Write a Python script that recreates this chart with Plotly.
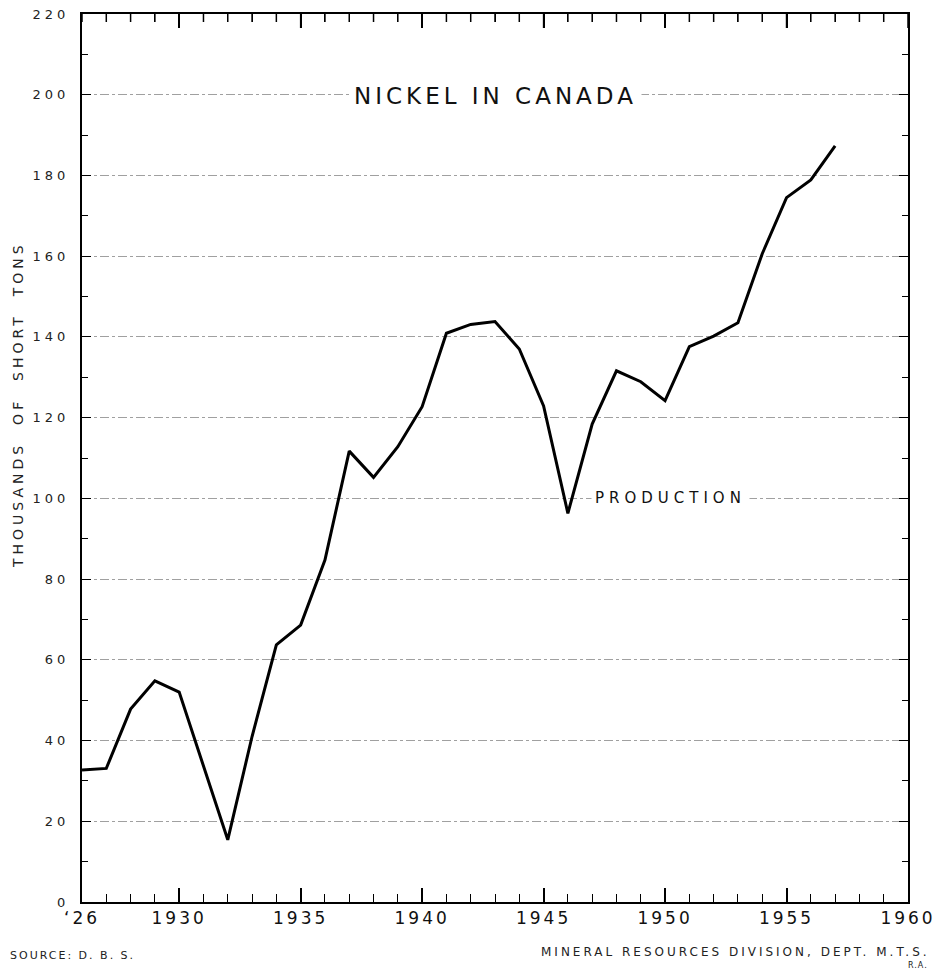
import plotly.graph_objects as go

years = list(range(1926, 1958))
production = [32.7, 33.1, 47.8, 54.8, 52.0, 33.5, 15.4, 41.0, 63.7, 68.6,
              84.7, 111.7, 105.2, 112.8, 122.7, 140.9, 143.1, 143.8, 137.0, 122.9,
              96.3, 118.4, 131.6, 128.9, 124.2, 137.6, 140.2, 143.5, 160.6, 174.5,
              178.9, 187.3]

x_tickvals = [1926, 1930, 1935, 1940, 1945, 1950, 1955, 1960]
x_ticklabels = ["\u201826", "1930", "1935", "1940", "1945", "1950", "1955", "1960"]
y_tickvals = list(range(0, 221, 20))
y_ticklabels = [str(v) for v in y_tickvals]

FONT = "DejaVu Sans"


def spaced(s, sp):
    return '<span style="letter-spacing:%spx">%s</span>' % (sp, s)


# plot area in pixels: x 82..908, y 14..902
L, R, T, B = 82, 908, 14, 902
W, H = 935, 974
Y_MAX = 220


def px(x):
    return (x - L) / (R - L)


def py(y):
    return (B - y) / (B - T)


fig = go.Figure()
fig.add_trace(go.Scatter(x=years, y=production, mode="lines",
                         line=dict(color="black", width=3), hoverinfo="x+y"))

x_minor = dict(dtick=1, tick0=1926, ticks="inside", ticklen=8,
               tickwidth=1.3, tickcolor="black", showgrid=False)
y_minor = dict(dtick=10, ticks="inside", ticklen=6, tickwidth=1.2,
               tickcolor="black", showgrid=False)

fig.update_layout(
    width=W, height=H,
    margin=dict(l=L, r=W - R, t=T, b=H - B, autoexpand=False),
    plot_bgcolor="white", paper_bgcolor="white",
    showlegend=False,
    font=dict(family=FONT, color="black"),
    xaxis=dict(
        range=[1926, 1960], tickvals=x_tickvals,
        ticktext=[spaced(t, 3) for t in x_ticklabels],
        ticks="inside", ticklen=14, tickwidth=1.5, tickcolor="black",
        showline=True, linecolor="black", linewidth=2, mirror="allticks",
        showgrid=False, zeroline=False, automargin=False,
        ticklabeloverflow="allow",
        tickfont=dict(size=17, family=FONT, color="#111"),
        minor=x_minor,
    ),
    yaxis=dict(
        range=[0, Y_MAX], tickvals=y_tickvals,
        ticktext=[spaced(t, 4) for t in y_ticklabels],
        ticks="inside", ticklen=9, tickwidth=1.3, tickcolor="black",
        showline=True, linecolor="black", linewidth=2, mirror="allticks",
        showgrid=True, gridcolor="#a0a0a0", gridwidth=1, griddash="dashdot",
        zeroline=False, ticklabelstandoff=8, automargin=False,
        ticklabeloverflow="allow",
        tickfont=dict(size=13, family=FONT, color="#222"),
        minor=y_minor,
    ),
)

# top-edge tick marks (every year, longer every five years), in axis units
units_per_px = Y_MAX / (B - T)
for yr in range(1926, 1961):
    tick_px = 14 if yr % 5 == 0 else 8
    fig.add_shape(type="line", xref="x", yref="y",
                  x0=yr, x1=yr, y0=Y_MAX, y1=Y_MAX - tick_px * units_per_px,
                  line=dict(color="black", width=1.5), layer="above")

fig.add_annotation(x=1943, y=199.6, xref="x", yref="y",
                   text=spaced("NICKEL IN CANADA", 4), showarrow=False,
                   font=dict(size=23, family=FONT, color="#111"),
                   bgcolor="white", borderpad=4)

fig.add_annotation(x=1946.95, y=100, xref="x", yref="y", xanchor="left",
                   text=spaced("PRODUCTION", 5), showarrow=False,
                   font=dict(size=15, family=FONT, color="#111"),
                   bgcolor="white", borderpad=3)

fig.add_annotation(x=px(18), y=py(405), xref="paper", yref="paper",
                   xanchor="center", yanchor="middle",
                   text=spaced("THOUSANDS  OF  SHORT  TONS", 4), textangle=-90,
                   showarrow=False, font=dict(size=14, family=FONT, color="#222"))

fig.add_annotation(x=px(8), y=py(956), xref="paper", yref="paper",
                   xanchor="left", yanchor="middle",
                   text=spaced("SOURCE: D. B. S.", 2), showarrow=False,
                   font=dict(size=11, family=FONT, color="#222"))

fig.add_annotation(x=px(932), y=py(952), xref="paper", yref="paper",
                   xanchor="right", yanchor="middle",
                   text=spaced("MINERAL RESOURCES DIVISION, DEPT. M.T.S.", 3),
                   showarrow=False, font=dict(size=12, family=FONT, color="#222"))

fig.add_annotation(x=px(930), y=py(966), xref="paper", yref="paper",
                   xanchor="right", yanchor="middle",
                   text=spaced("R.A.", 1), showarrow=False,
                   font=dict(size=8, family=FONT, color="#222"))

fig.write_html("out.html", config={"displayModeBar": False},
               post_script="document.body.style.margin='0';"
                           "document.body.style.overflow='hidden';")
